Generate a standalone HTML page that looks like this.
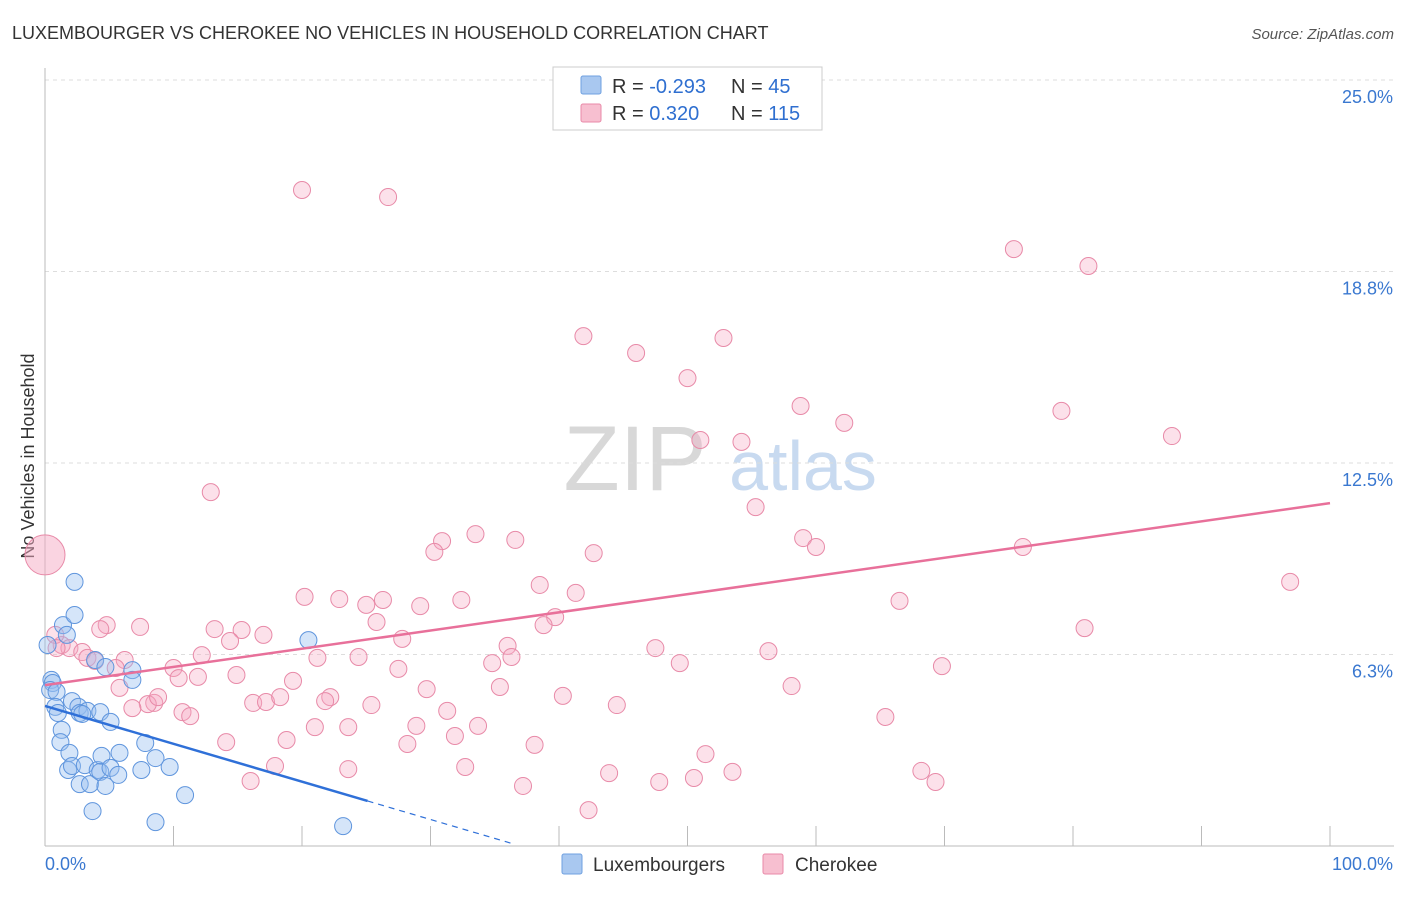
<!DOCTYPE html>
<html><head><meta charset="utf-8"><style>
body{margin:0;background:#fff;font-family:"Liberation Sans",sans-serif;}
svg text{font-family:"Liberation Sans",sans-serif;}
</style></head><body>
<svg id="chart" width="1406" height="892" viewBox="0 0 1406 892" xmlns="http://www.w3.org/2000/svg">
<text x="12" y="39" font-size="18" fill="#333">LUXEMBOURGER VS CHEROKEE NO VEHICLES IN HOUSEHOLD CORRELATION CHART</text>
<text x="1394" y="39" font-size="15" fill="#555" font-style="italic" text-anchor="end">Source: ZipAtlas.com</text>
<text transform="translate(34,456) rotate(-90)" font-size="18" fill="#333" text-anchor="middle">No Vehicles in Household</text>
<g>
<text x="635" y="490" font-size="92" fill="#d8d8d8" font-family="Liberation Serif" text-anchor="middle">ZIP</text>
<text x="803" y="490" font-size="70" fill="#c8daf0" text-anchor="middle">atlas</text>
</g>
<g id="grid"></g>
<g id="axes"></g>
<g id="marks"></g>
<g>
<rect x="553" y="67" width="269" height="63" fill="#fff" stroke="#ccc"/>
<rect x="581" y="76" width="20" height="18" fill="#a9c8f0" stroke="#6fa0e0" rx="2"/>
<rect x="581" y="104" width="20" height="18" fill="#f7bfd0" stroke="#e88aa8" rx="2"/>
<text x="612" y="93" font-size="20" fill="#333">R = <tspan fill="#2f6fd0">-0.293</tspan></text>
<text x="731" y="93" font-size="20" fill="#333">N = <tspan fill="#2f6fd0"> 45</tspan></text>
<text x="612" y="120" font-size="20" fill="#333">R = <tspan fill="#2f6fd0"> 0.320</tspan></text>
<text x="731" y="120" font-size="20" fill="#333">N = <tspan fill="#2f6fd0">115</tspan></text>
</g>
<g>
<rect x="562" y="854" width="20" height="20" fill="#a9c8f0" stroke="#6fa0e0" rx="2"/>
<text x="593" y="871" font-size="19" fill="#333">Luxembourgers</text>
<rect x="763" y="854" width="20" height="20" fill="#f7bfd0" stroke="#e88aa8" rx="2"/>
<text x="795" y="871" font-size="19" fill="#333">Cherokee</text>
</g>
</svg>
<script>
const yTicks=[6.25,12.5,18.75,25];
const yTickLabels=["6.3%","12.5%","18.8%","25.0%"];
const xTicks=[0,10,20,30,40,50,60,70,80,90,100];
const blueX=[0.2,0.5,0.6,0.4,0.9,0.8,1.0,1.4,1.7,2.3,2.3,2.1,2.6,2.7,3.3,2.9,4.3,3.9,4.7,5.1,1.3,1.2,1.9,1.8,2.1,2.7,3.1,3.5,4.1,4.4,4.3,4.7,5.1,5.7,5.8,6.8,6.8,7.8,7.5,8.6,9.7,10.9,3.7,8.6,20.5,23.2];
const blueY=[6.56,5.42,5.32,5.09,5.03,4.54,4.34,7.21,6.89,8.62,7.54,4.73,4.54,4.34,4.41,4.31,4.37,6.07,5.84,4.05,3.79,3.39,3.04,2.48,2.61,2.02,2.64,2.02,2.48,2.94,2.42,1.96,2.55,2.32,3.04,5.74,5.42,3.36,2.48,2.87,2.58,1.66,1.14,0.78,6.72,0.65];
const pinkX=[20.0,26.7,75.4,81.2,41.9,52.8,46.0,50.0,58.8,62.2,79.1,87.7,51.0,54.2,12.9,55.3,33.5,30.9,36.6,30.3,42.7,59.0,60.0,76.1,96.9,38.5,41.3,20.2,22.9,25.0,26.3,29.2,32.4,66.5,39.7,38.8,25.8,80.9,7.4,4.8,4.3,13.2,15.3,17.0,14.4,27.8,36.0,47.5,56.3,36.3,34.8,49.4,69.8,1.3,1.9,2.9,3.3,3.9,6.2,5.5,10.0,12.2,21.2,24.4,27.5,14.9,10.4,11.9,19.3,5.8,29.7,35.4,58.1,40.3,44.5,8.5,8.0,8.8,16.2,17.2,18.3,22.2,21.8,25.4,6.8,10.7,11.3,31.3,65.4,21.0,23.6,28.9,33.7,31.9,14.1,18.8,28.2,38.1,51.4,17.9,23.6,32.7,16.0,43.9,50.5,53.5,68.2,47.8,37.2,69.3,42.3,0.8,0.9];
const pinkY=[21.41,21.18,19.48,18.93,16.64,16.58,16.09,15.27,14.36,13.81,14.20,13.38,13.25,13.19,11.55,11.06,10.18,9.95,9.99,9.60,9.56,10.05,9.76,9.76,8.62,8.52,8.26,8.13,8.06,7.87,8.03,7.83,8.03,8.00,7.47,7.21,7.31,7.11,7.15,7.21,7.08,7.08,7.05,6.89,6.69,6.76,6.53,6.46,6.36,6.17,5.97,5.97,5.87,6.56,6.46,6.33,6.14,6.04,6.07,5.81,5.81,6.23,6.14,6.17,5.78,5.58,5.48,5.52,5.39,5.16,5.12,5.19,5.22,4.90,4.60,4.67,4.63,4.86,4.67,4.70,4.86,4.86,4.73,4.60,4.50,4.37,4.24,4.41,4.21,3.88,3.88,3.92,3.92,3.59,3.39,3.46,3.33,3.30,3.00,2.61,2.51,2.58,2.12,2.38,2.22,2.42,2.45,2.09,1.96,2.09,1.17,6.89,6.46];
const bigPoint=[0,9.5];
const pinkTrend=[5.25,11.19];
const blueTrend=[4.57,-0.1235];
const blueSolidEnd=25.1, blueDashEnd=36.5;

const NS="http://www.w3.org/2000/svg";
const X=v=>45+v*12.85;
const Y=v=>846-v*30.64;
function mk(tag,attrs,parent){const e=document.createElementNS(NS,tag);for(const k in attrs)e.setAttribute(k,attrs[k]);document.getElementById(parent).appendChild(e);return e;}

yTicks.forEach((t,i)=>{
  const l=mk('line',{x1:45,x2:1394,y1:Y(t),y2:Y(t),stroke:'#ddd','stroke-dasharray':'4,4'},'grid');
  
  
  const tx=mk('text',{x:1393,y:Y(t)+23,'font-size':18,fill:'#3a78d0','text-anchor':'end'},'axes');
  tx.textContent=yTickLabels[i];
  
  
});
const ax=mk('line',{x1:45,x2:1394,y1:846,y2:846,stroke:'#bbb'},'axes');


const ay=mk('line',{x1:45,x2:45,y1:68,y2:846,stroke:'#bbb'},'axes');


xTicks.forEach(t=>{
  const l=mk('line',{x1:X(t),x2:X(t),y1:826,y2:846,stroke:'#bbb'},'axes');
  
  
});
const xl0=mk('text',{x:45,y:870,'font-size':18,fill:'#3a78d0'},'axes');xl0.textContent='0.0%';


const xl1=mk('text',{x:1393,y:870,'font-size':18,fill:'#3a78d0','text-anchor':'end'},'axes');xl1.textContent='100.0%';



const bp=mk('circle',{cx:X(bigPoint[0]),cy:Y(bigPoint[1]),r:20,fill:'rgba(245,170,195,0.5)',stroke:'#e88aa8','stroke-width':1},'marks');


pinkX.forEach((x,i)=>{
  const c=mk('circle',{cx:X(x),cy:Y(pinkY[i]),r:8.5,fill:'rgba(245,170,195,0.35)',stroke:'#e88aa8','stroke-width':1},'marks');
  
  
});
blueX.forEach((x,i)=>{
  const c=mk('circle',{cx:X(x),cy:Y(blueY[i]),r:8.5,fill:'rgba(150,190,240,0.4)',stroke:'#5f95dd','stroke-width':1},'marks');
  
  
});
const pt=mk('line',{x1:X(0),y1:Y(pinkTrend[0]),x2:X(100),y2:Y(pinkTrend[1]),stroke:'#e8709a','stroke-width':2.5},'marks');


const bt=mk('line',{x1:X(0),y1:Y(blueTrend[0]),x2:X(blueSolidEnd),y2:Y(blueTrend[0]+blueTrend[1]*blueSolidEnd),stroke:'#2f70d8','stroke-width':2.5},'marks');


const bd=mk('line',{x1:X(blueSolidEnd),y1:Y(blueTrend[0]+blueTrend[1]*blueSolidEnd),x2:X(blueDashEnd),y2:Y(blueTrend[0]+blueTrend[1]*blueDashEnd),stroke:'#2f70d8','stroke-width':1.2,'stroke-dasharray':'6,5'},'marks');


</script>
</body></html>
